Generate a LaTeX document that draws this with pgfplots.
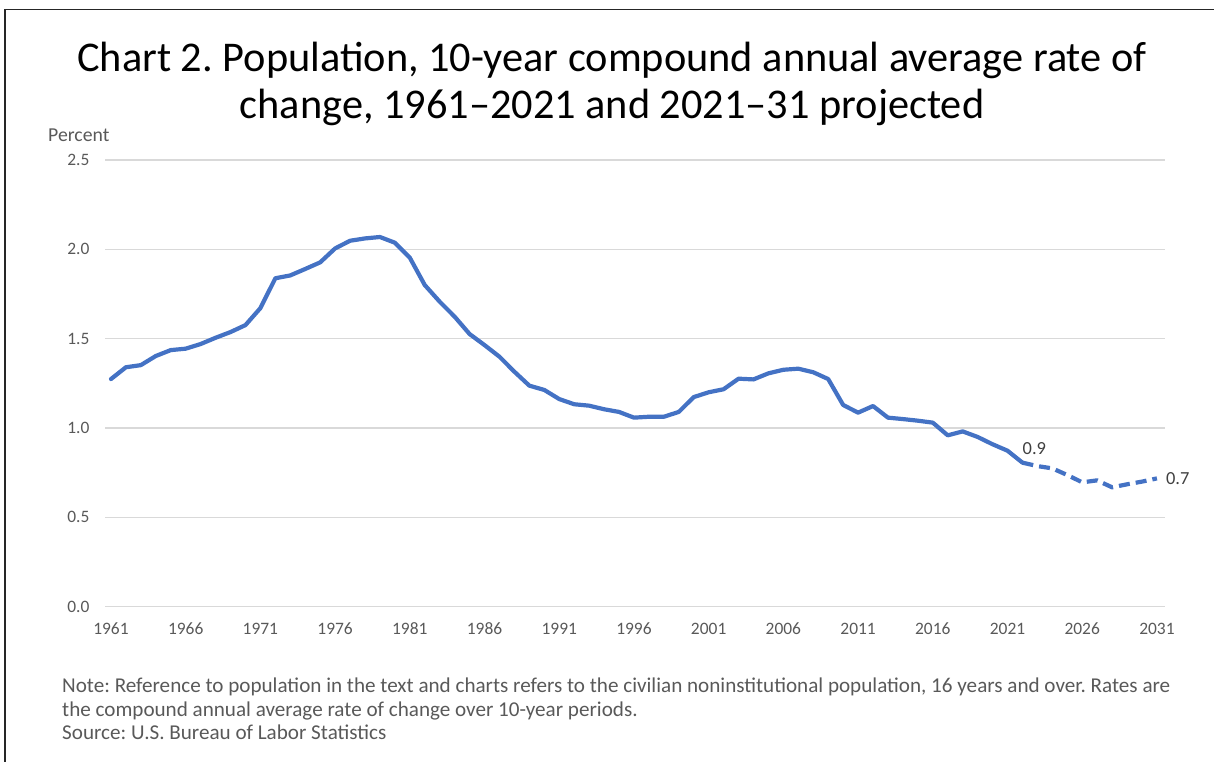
\documentclass[border=0pt]{standalone}
\usepackage{fontspec}
\setmainfont{Carlito}
\usepackage{pgfplots}
\pgfplotsset{compat=1.18}
\definecolor{exblue}{HTML}{4472C4}
\definecolor{gridc}{HTML}{D9D9D9}
\definecolor{txt}{HTML}{595959}
\definecolor{lab}{HTML}{404040}
\frenchspacing
\begin{document}
\begin{tikzpicture}[x=1bp,y=1bp]
\path[use as bounding box] (0,0) rectangle (1214,762);
\draw[line width=1.5bp, black!85] (5,0) -- (5,752.7) -- (1214,752.7);
\node[anchor=base, inner sep=0, font=\fontsize{42.5}{50}\selectfont] at (612,690) {Chart 2. Population, 10-year compound annual average rate of};
\node[anchor=base, inner sep=0, font=\fontsize{42.5}{50}\selectfont] at (612,643) {change, 1961–2021 and 2021–31 projected};
\node[anchor=base west, inner sep=0, text=txt, font=\fontsize{19.8}{22}\selectfont] at (48,620) {Percent};
\node[anchor=base west, inner sep=0, text=txt, font=\fontsize{21.2}{24}\selectfont] at (62,69) {Note: Reference to population in the text and charts refers to the civilian noninstitutional population, 16 years and over. Rates are};
\node[anchor=base west, inner sep=0, text=txt, font=\fontsize{21.2}{24}\selectfont] at (62,45.5) {the compound annual average rate of change over 10-year periods.};
\node[anchor=base west, inner sep=0, text=txt, font=\fontsize{21.2}{24}\selectfont] at (62,22) {Source: U.S. Bureau of Labor Statistics};
\begin{axis}[
  at={(105bp,155.3bp)}, anchor=south west,
  scale only axis, width=1060bp, height=446.7bp,
  xmin=1960.6, xmax=2031.54, ymin=0, ymax=2.5,
  axis line style={draw=none},
  major tick length=0pt,
  xtick={1961,1966,1971,1976,1981,1986,1991,1996,2001,2006,2011,2016,2021,2026,2031},
  ytick={0,0.5,1,1.5,2,2.5},
  ymajorgrids, grid style={gridc, line width=1.3bp},
  /pgf/number format/assume math mode=true,
  xticklabel style={/pgf/number format/1000 sep={}, text=txt, font=\fontsize{17.5}{20}\selectfont, text height=12bp, text depth=0pt, yshift=-12bp},
  yticklabel style={/pgf/number format/fixed, /pgf/number format/fixed zerofill, /pgf/number format/precision=1, text=txt, font=\fontsize{17.5}{20}\selectfont, xshift=-12bp},
  clip=false,
]
\addplot[exblue, line width=4.2bp, line join=round, line cap=round] coordinates {
(1961,1.274) (1962,1.340) (1963,1.352) (1964,1.403) (1965,1.436) (1966,1.444)
(1967,1.470) (1968,1.505) (1969,1.537) (1970,1.576) (1971,1.671) (1972,1.838)
(1973,1.854) (1974,1.890) (1975,1.927) (1976,2.005) (1977,2.048) (1978,2.061)
(1979,2.069) (1980,2.037) (1981,1.953) (1982,1.800) (1983,1.707) (1984,1.623)
(1985,1.526) (1986,1.464) (1987,1.399) (1988,1.315) (1989,1.237) (1990,1.213)
(1991,1.162) (1992,1.133) (1993,1.125) (1994,1.105) (1995,1.090) (1996,1.058)
(1997,1.063) (1998,1.063) (1999,1.090) (2000,1.173) (2001,1.200) (2002,1.217)
(2003,1.276) (2004,1.272) (2005,1.306) (2006,1.326) (2007,1.332) (2008,1.312)
(2009,1.274) (2010,1.129) (2011,1.086) (2012,1.123) (2013,1.058) (2014,1.050)
(2015,1.041) (2016,1.030) (2017,0.959) (2018,0.981) (2019,0.950) (2020,0.909)
(2021,0.873) (2022,0.806)
};
\addplot[exblue, line width=4.2bp, line join=round, dash pattern=on 11bp off 6bp] coordinates {
(2022,0.806) (2023,0.787) (2024,0.774) (2025,0.737) (2026,0.696) (2027,0.707)
(2028,0.668) (2029,0.685) (2030,0.700) (2031,0.718)
};
\node[anchor=south west, inner sep=0, text=lab, font=\fontsize{18.5}{22}\selectfont] at (axis cs:2022,0.85) {0.9};
\node[anchor=west, inner sep=0, text=lab, font=\fontsize{18.5}{22}\selectfont] at (axis cs:2031.6,0.718) {0.7};
\end{axis}
\end{tikzpicture}
\end{document}
